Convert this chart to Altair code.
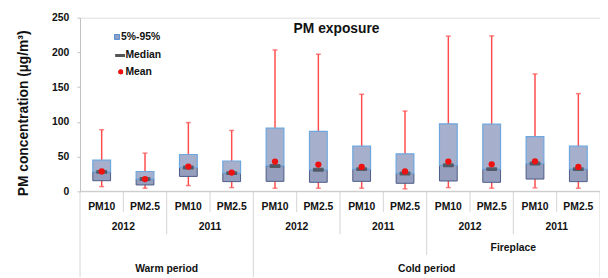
import altair as alt
import pandas as pd

# ---- data ----
pollutant = ["PM10", "PM2.5"] * 6
years = ["2012", "2011", "2012", "2011", "2012", "2011"]
periods = ["Warm period", "Cold period"]
fire_label = ["Fireplace"]

p05 = [15.3, 9.2, 21.5, 14.0, 14.4, 13.0, 14.4, 11.6, 14.9, 13.0, 17.7, 14.0]
p95 = [45.0, 28.6, 53.0, 43.7, 91.0, 86.2, 65.0, 54.0, 97.2, 96.7, 78.7, 65.0]
median = [28.0, 17.7, 34.3, 26.2, 36.6, 31.0, 32.0, 25.8, 37.6, 32.0, 40.0, 32.0]
mean = [28.6, 17.7, 35.7, 27.0, 42.8, 38.5, 35.2, 28.6, 42.8, 39.0, 43.3, 35.2]
wmin = [6.8, 4.5, 8.3, 5.4, 4.5, 4.5, 4.5, 3.6, 5.4, 4.5, 5.0, 4.5]
wmax = [88.7, 55.0, 99.0, 87.7, 203.5, 197.4, 139.7, 115.6, 223.4, 223.8, 169.0, 140.7]

legend_labels = ["5%-95%", "Median", "Mean"]
title_text = "PM exposure"
y_title = "PM concentration (µg/m³)"

# ---- layout ----
W, H = 527, 176
FONT = "Liberation Sans"
HALF = 0.205  # half box width in category units

n = len(pollutant)
df = pd.DataFrame({
    "c": [i + 0.5 for i in range(n)],
    "pm": pollutant,
    "lo": p05, "hi": p95, "med": median, "mean": mean,
    "wmin": wmin, "wmax": wmax,
})
df["bl"] = df["c"] - HALF
df["br"] = df["c"] + HALF

xsc = alt.Scale(domain=[0, 12], nice=False, zero=False)
ysc = alt.Scale(domain=[0, 250], nice=False)
yaxis = alt.Axis(
    values=[0, 50, 100, 150, 200, 250], grid=False,
    labelFont=FONT, labelFontSize=10.5, labelFontWeight="bold", labelColor="#111",
    tickSize=3, tickColor="#c0c0c0", domainColor="#c0c0c0", labelPadding=8.5,
    title=y_title, titleFont=FONT, titleFontSize=14, titleFontWeight="bold",
    titleColor="#111", titleX=-57, titleY=96.5, titleAngle=270,
    titleAlign="center", titleBaseline="middle",
)


def X(f):
    return alt.X(f"{f}:Q", scale=xsc, axis=None)


def Y(f):
    return alt.Y(f"{f}:Q", scale=ysc, axis=yaxis)


base = alt.Chart(df)
RED = "#ff4d4d"

whisker = base.mark_rule(color=RED, strokeWidth=1.5).encode(x=X("c"), y=Y("wmin"), y2="wmax")
cap_lo = base.mark_tick(orient="horizontal", size=5, thickness=1.5, color=RED).encode(x=X("c"), y=Y("wmin"))
cap_hi = base.mark_tick(orient="horizontal", size=5, thickness=1.5, color=RED).encode(x=X("c"), y=Y("wmax"))
box_lo = base.mark_bar(fill="#959fbd", stroke="#4a5a86", strokeWidth=1).encode(
    x=X("bl"), x2="br", y=Y("lo"), y2="med")
box_hi = base.mark_bar(fill="#a6afcb", stroke="#6ea7de", strokeWidth=1.2).encode(
    x=X("bl"), x2="br", y=Y("med"), y2="hi")
med_mark = base.mark_tick(orient="horizontal", size=11, thickness=4, color="#3d3d3d",
                          cornerRadius=1).encode(x=X("c"), y=Y("med"))
mean_mark = base.mark_circle(size=40, color="#ee1111", opacity=1).encode(x=X("c"), y=Y("mean"))

# x axis baseline
baseline = alt.Chart(pd.DataFrame({"a": [0]})).mark_rule(color="#c8c8c8").encode(
    x=alt.value(0), x2=alt.value(W), y=alt.value(H))

# hierarchical separators
SEP = "#d4d4d4"
sep_layers = []
for bounds, depth in [([1, 3, 5, 7, 9, 11], 21), ([2, 6, 10], 43.5), ([8], 64.5), ([0, 4, 12], 90)]:
    sep_layers.append(
        alt.Chart(pd.DataFrame({"b": bounds})).mark_rule(color=SEP).encode(
            x=X("b"), y=alt.value(H), y2=alt.value(H + depth))
    )

txt = dict(font=FONT, fontWeight="bold", color="#111", baseline="middle", align="center")
row1 = base.mark_text(fontSize=10.5, **txt).encode(x=X("c"), y=alt.value(H + 16), text="pm:N")
yr_df = pd.DataFrame({"c": [1, 3, 5, 7, 9, 11], "t": years})
row2 = alt.Chart(yr_df).mark_text(fontSize=10.5, **txt).encode(x=X("c"), y=alt.value(H + 36), text="t:N")
fire_df = pd.DataFrame({"c": [10], "t": fire_label})
row3 = alt.Chart(fire_df).mark_text(fontSize=10.5, **txt).encode(x=X("c"), y=alt.value(H + 57.5), text="t:N")
per_df = pd.DataFrame({"c": [2, 8], "t": periods})
row4 = alt.Chart(per_df).mark_text(fontSize=10.5, **txt).encode(x=X("c"), y=alt.value(H + 79), text="t:N")

title = alt.Chart(pd.DataFrame({"t": [title_text]})).mark_text(
    font=FONT, fontSize=14, fontWeight="bold", color="#111", align="center", baseline="middle"
).encode(x=alt.value(260), y=alt.value(11.5), text="t:N")

# legend
lg = alt.Chart(pd.DataFrame({"t": legend_labels}))
lg_sq = lg.mark_point(shape="square", filled=True, size=22, fill="#94a3c8", stroke="#5b8fd0",
                      strokeWidth=1, opacity=1).encode(x=alt.value(37.5), y=alt.value(19.5))
lg_dash = lg.mark_rule(color="#555", strokeWidth=3).encode(
    x=alt.value(36), x2=alt.value(45.5), y=alt.value(38.3))
lg_dot = lg.mark_circle(size=24, color="#ee1111", opacity=1).encode(x=alt.value(41.3), y=alt.value(55))
ltxt = dict(font=FONT, fontSize=10.5, fontWeight="bold", color="#111", align="left", baseline="middle")
lg_t1 = lg.transform_filter(alt.datum.t == legend_labels[0]).mark_text(**ltxt).encode(
    x=alt.value(41.5), y=alt.value(19.7), text="t:N")
lg_t2 = lg.transform_filter(alt.datum.t == legend_labels[1]).mark_text(**ltxt).encode(
    x=alt.value(46), y=alt.value(38), text="t:N")
lg_t3 = lg.transform_filter(alt.datum.t == legend_labels[2]).mark_text(**ltxt).encode(
    x=alt.value(46), y=alt.value(55), text="t:N")

chart = alt.layer(
    baseline, *sep_layers,
    whisker, cap_lo, cap_hi, box_lo, box_hi, med_mark, mean_mark,
    row1, row2, row3, row4, title,
    lg_sq, lg_dash, lg_dot, lg_t1, lg_t2, lg_t3,
).properties(
    width=W, height=H,
    autosize=alt.AutoSizeParams(type="none"),
    padding={"left": 73, "top": 8, "right": 0, "bottom": 85},
).configure_view(stroke=None).configure(background="white")

chart.save("out.html", embed_options={"renderer": "svg", "actions": False})
